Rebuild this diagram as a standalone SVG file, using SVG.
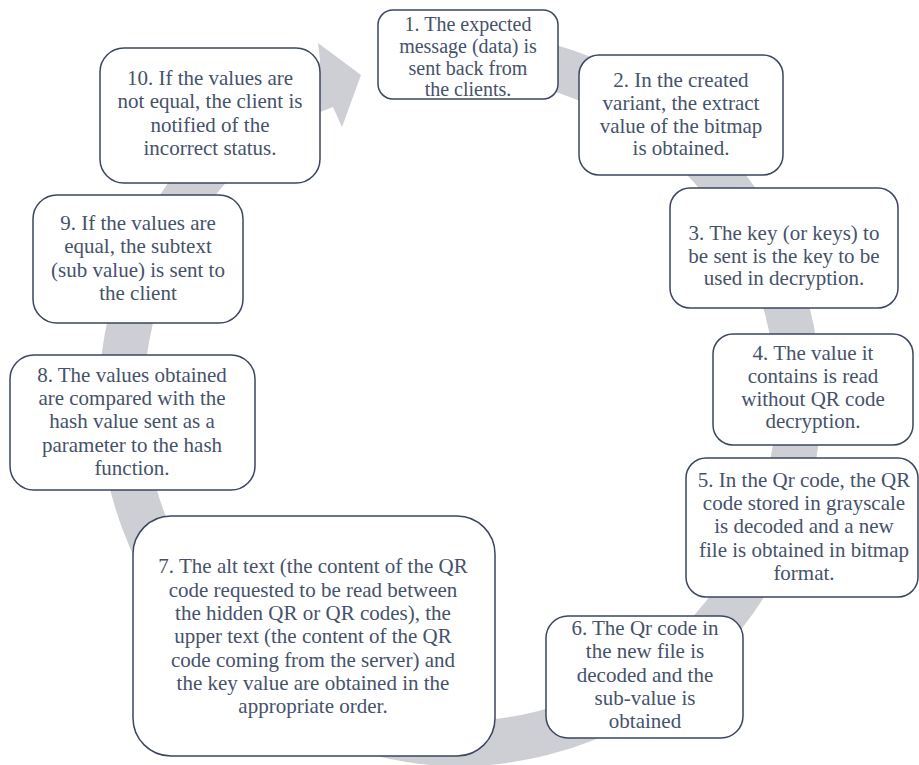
<svg xmlns="http://www.w3.org/2000/svg" width="919" height="765" viewBox="0 0 919 765">
<style>
.box{fill:#ffffff;stroke:#3b4660;stroke-width:1.5}
.t{font-family:'Liberation Serif','DejaVu Serif',serif;font-size:21px;fill:#46526a;text-anchor:middle}
.s{font-size:20px}
.ring{fill:none;stroke:#cdcfd4;stroke-width:45}
</style>
<rect width="919" height="765" fill="#ffffff"/>
<g id="connectors">
<path class="ring" d="M430.5,55.8 A338.5,344.5 0 1 1 327.7,81.9"/>
<polygon points="318,43 361,75 342,127 333,107 320,112 320,60" fill="#cdcfd4"/>
</g>
<g id="node1">
<rect class="box" x="378" y="10" width="180" height="89" rx="15"/>
<text class="t s" x="468" font-family="Liberation Serif, serif"><tspan x="468" y="31">1. The expected</tspan><tspan x="468" y="53">message (data) is</tspan><tspan x="468" y="75">sent back from</tspan><tspan x="468" y="96">the clients.</tspan></text>
</g>
<g id="node2">
<rect class="box" x="579" y="55" width="204" height="120" rx="20"/>
<text class="t"><tspan x="681" y="87">2. In the created</tspan><tspan x="681" y="110">variant, the extract</tspan><tspan x="681" y="133">value of the bitmap</tspan><tspan x="681" y="155">is obtained.</tspan></text>
</g>
<g id="node3">
<rect class="box" x="670" y="188" width="228" height="120" rx="20"/>
<text class="t"><tspan x="784" y="240">3. The key (or keys) to</tspan><tspan x="784" y="263">be sent is the key to be</tspan><tspan x="784" y="285">used in decryption.</tspan></text>
</g>
<g id="node4">
<rect class="box" x="713" y="334" width="200" height="111" rx="20"/>
<text class="t"><tspan x="813" y="360">4. The value it</tspan><tspan x="813" y="383">contains is read</tspan><tspan x="813" y="406">without QR code</tspan><tspan x="813" y="428">decryption.</tspan></text>
</g>
<g id="node5">
<rect class="box" x="686" y="458" width="232" height="139" rx="20"/>
<text class="t"><tspan x="804" y="487">5. In the Qr code, the QR</tspan><tspan x="804" y="510">code stored in grayscale</tspan><tspan x="804" y="533">is decoded and a new</tspan><tspan x="804" y="557">file is obtained in bitmap</tspan><tspan x="804" y="580">format.</tspan></text>
</g>
<g id="node6">
<rect class="box" x="546" y="616" width="197" height="122" rx="22"/>
<text class="t"><tspan x="645" y="635">6. The Qr code in</tspan><tspan x="645" y="658">the new file is</tspan><tspan x="645" y="682">decoded and the</tspan><tspan x="645" y="705">sub-value is</tspan><tspan x="645" y="728">obtained</tspan></text>
</g>
<g id="node7">
<rect class="box" x="133" y="516" width="362" height="240" rx="38"/>
<text class="t"><tspan x="313" y="573">7. The alt text (the content of the QR</tspan><tspan x="313" y="597">code requested to be read between</tspan><tspan x="313" y="620">the hidden QR or QR codes), the</tspan><tspan x="313" y="643">upper text (the content of the QR</tspan><tspan x="313" y="667">code coming from the server) and</tspan><tspan x="313" y="690">the key value are obtained in the</tspan><tspan x="313" y="713">appropriate order.</tspan></text>
</g>
<g id="node8">
<rect class="box" x="10" y="355" width="245" height="135" rx="24"/>
<text class="t"><tspan x="132" y="382">8. The values obtained</tspan><tspan x="132" y="405">are compared with the</tspan><tspan x="132" y="428">hash value sent as a</tspan><tspan x="132" y="452">parameter to the hash</tspan><tspan x="132" y="475">function.</tspan></text>
</g>
<g id="node9">
<rect class="box" x="33" y="195" width="210" height="128" rx="24"/>
<text class="t"><tspan x="138" y="230">9. If the values are</tspan><tspan x="138" y="253">equal, the subtext</tspan><tspan x="138" y="277">(sub value) is sent to</tspan><tspan x="138" y="300">the client</tspan></text>
</g>
<g id="node10">
<rect class="box" x="100" y="48" width="220" height="135" rx="24"/>
<text class="t"><tspan x="210" y="85">10. If the values are</tspan><tspan x="210" y="108">not equal, the client is</tspan><tspan x="210" y="132">notified of the</tspan><tspan x="210" y="155">incorrect status.</tspan></text>
</g>
</svg>
